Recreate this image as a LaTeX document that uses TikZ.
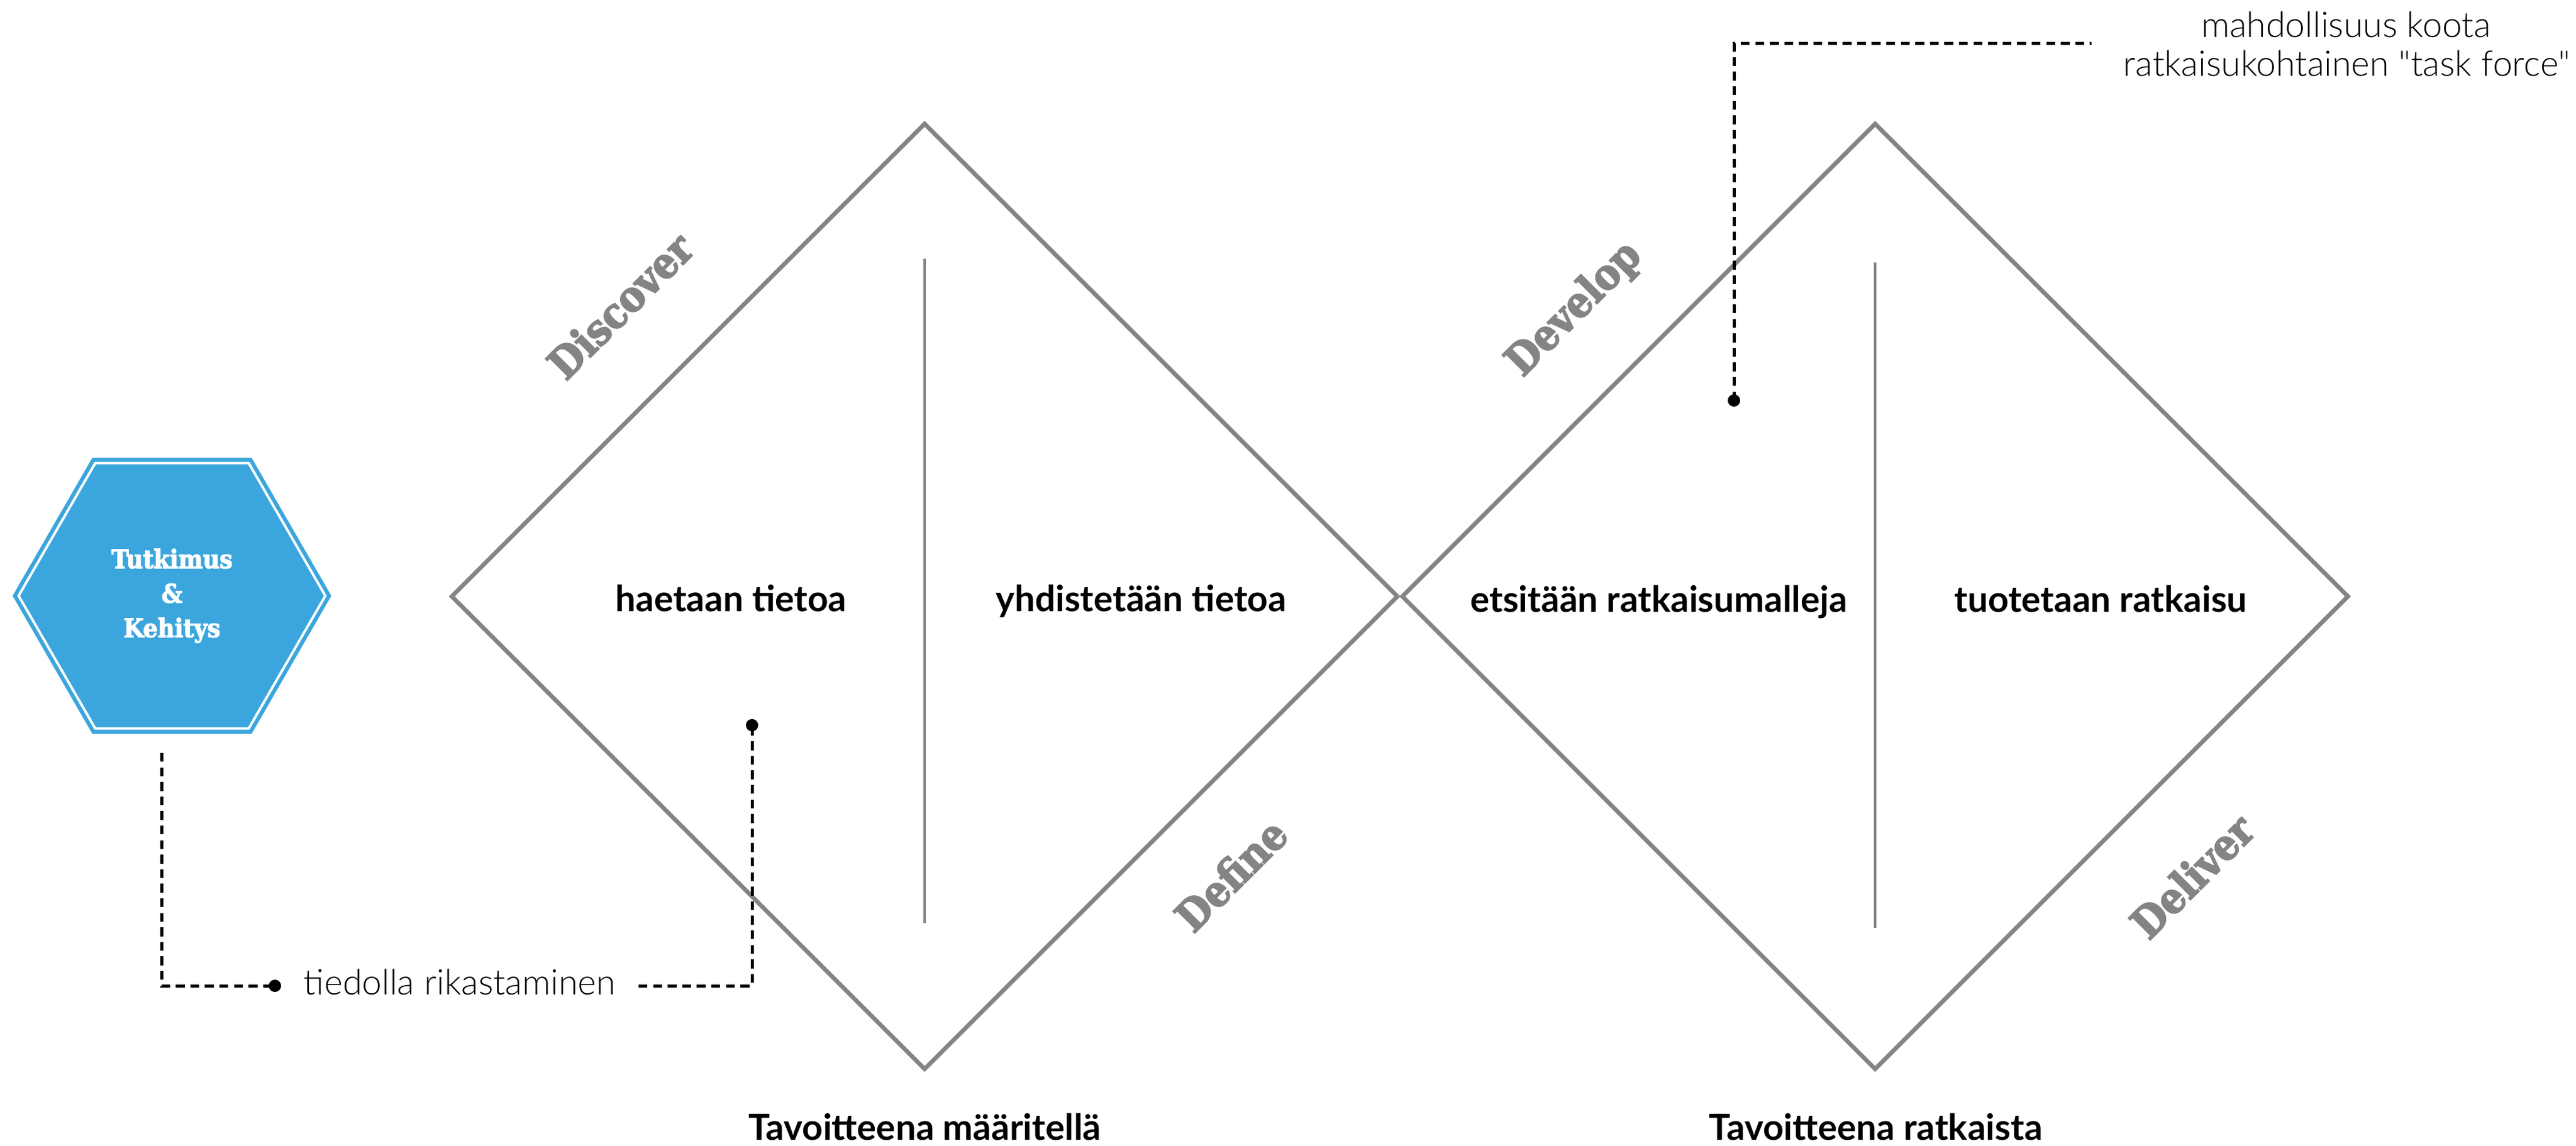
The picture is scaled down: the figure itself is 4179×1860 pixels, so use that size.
\documentclass[tikz,border=0pt]{standalone}
\usepackage{fontspec}
\setmainfont{Lato}
\newfontfamily\lightfont{Lato Light}
\newfontfamily\slabfont{DejaVu Serif Condensed Bold}[FakeBold=3]
\usetikzlibrary{shapes.geometric}
\definecolor{linegray}{RGB}{132,132,132}
\definecolor{hexblue}{RGB}{59,166,221}
\begin{document}
\begin{tikzpicture}[x=0.25pt,y=-0.25pt,
  diam/.style={draw=linegray, line width=1.7pt, line join=miter},
  divider/.style={draw=linegray, line width=1.1pt},
  phase/.style={text=linegray, font=\slabfont\fontsize{17.2}{21}\selectfont, rotate=45, inner sep=0pt, anchor=base},
  inlabel/.style={font=\bfseries\fontsize{14.6}{17.5}\selectfont, anchor=base, inner sep=0pt},
  note/.style={font=\lightfont\fontsize{14.3}{17}\selectfont, anchor=base, inner sep=0pt},
  leader/.style={draw=black, line width=1.25pt, dash pattern=on 3.6pt off 2.3pt},
  dot/.style={circle, fill=black, inner sep=0pt, minimum size=5pt},
  hexnode/.style={regular polygon, regular polygon sides=6, minimum size=124.4pt,
    fill=hexblue, draw=hexblue, double=white, double distance=1pt, line width=1.6pt,
    text=white, align=center, inner sep=0pt,
    font=\slabfont\fontsize{10.4}{14}\selectfont},
]
\fill[white] (0,0) rectangle (4179,1860);
\useasboundingbox (0,0) rectangle (4179,1860);

% diamonds
\draw[diam] (733,968) -- (1500,201) -- (2267,968) -- (1500,1735) -- cycle;
\draw[diam] (2275,968) -- (3042,201) -- (3809,968) -- (3042,1735) -- cycle;
\draw[divider] (1500,420) -- (1500,1498);
\draw[divider] (3042,426) -- (3042,1506);

% phase labels
\node[phase] (discover) at (1024,514) {Discover};
\node[phase] (define) at (2015,1438) {Define};
\node[phase] (develop) at (2568,516) {Develop};
\node[phase] (deliver) at (3574,1440) {Deliver};

% inner labels
\node[inlabel] (haetaan) at (1186,993) {haetaan tietoa};
\node[inlabel] (yhdist) at (1851,993) {yhdistetään tietoa};
\node[inlabel] (etsit) at (2691,994) {etsitään ratkaisumalleja};
\node[inlabel] (tuot) at (3408,994) {tuotetaan ratkaisu};
\node[inlabel] (goal1) at (1500,1850) {Tavoitteena määritellä};
\node[inlabel] (goal2) at (3043,1850) {Tavoitteena ratkaista};

% hexagon
\node[hexnode] (hex) at (279,967) {Tutkimus\\\&\\Kehitys};

% leader: tiedolla rikastaminen
\coordinate (h1) at (262,1222);
\coordinate (h2) at (262,1600);
\node[dot] (dotA) at (446,1600) {};
\draw[leader] (h1) -- (h2) -- (dotA.center);
\node[note] (rik) at (746,1614) {tiedolla rikastaminen};
\coordinate (r1) at (1036,1600);
\coordinate (r2) at (1220,1600);
\node[dot] (dotB) at (1220,1177) {};
\draw[leader] (r1) -- (r2) -- (dotB.center);

% leader: task force
\node[dot] (dotC) at (2813,650) {};
\coordinate (t1) at (2813,71);
\coordinate (t2) at (3393,71);
\draw[leader] (dotC.center) -- (t1) -- (t2);
\node[note] (note1) at (3806,61) {mahdollisuus koota};
\node[note] (note2) at (3807,124) {ratkaisukohtainen "task force"};
\end{tikzpicture}
\end{document}
